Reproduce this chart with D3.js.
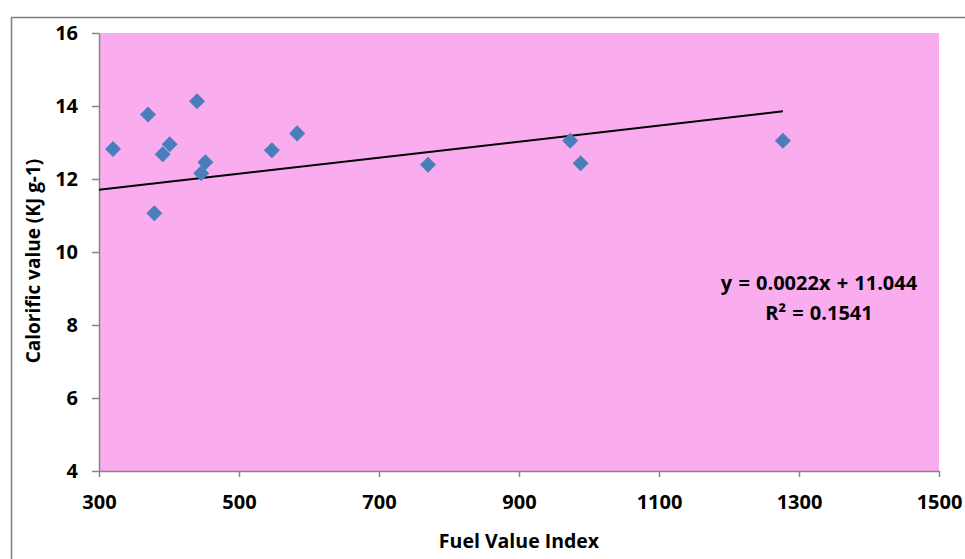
<!DOCTYPE html>
<html>
<head>
<meta charset="utf-8">
<script src="https://cdn.jsdelivr.net/npm/d3@7"></script>
<style>
  body { margin: 0; background: #fff; }
  svg { display: block; font-family: "Open Sans", Lato, sans-serif; }
</style>
</head>
<body>
<div id="chart"></div>
<script>
// Fuel value index vs calorific value
const fuelIndex = [320, 370, 379, 391, 401, 440, 446, 452, 547, 583, 770, 973, 988, 1277];
const calorific = [12.82, 13.77, 11.06, 12.68, 12.95, 14.13, 12.16, 12.46, 12.79, 13.25, 12.39, 13.05, 12.43, 13.05];
const xTicks = [300, 500, 700, 900, 1100, 1300, 1500];
const yTicks = [4, 6, 8, 10, 12, 14, 16];
const slope = 0.0022;
const intercept = 11.044;
const equationLines = ['y = 0.0022x + 11.044', 'R² = 0.1541'];

const width = 965;
const height = 559;
const margin = { top: 33, right: 26, bottom: 88, left: 99 };
const innerWidth = width - margin.left - margin.right;
const innerHeight = height - margin.top - margin.bottom;

const svg = d3.select('#chart')
  .append('svg')
  .attr('width', width)
  .attr('height', height);

// outer chart frame (runs past the right and bottom edges)
svg.append('path')
  .attr('d', `M11.5,${height}V17.5H${width}`)
  .attr('fill', 'none')
  .attr('stroke', '#7f7f7f')
  .attr('stroke-width', 1.5);

const g = svg.append('g')
  .attr('transform', `translate(${margin.left},${margin.top})`);

const x = d3.scaleLinear().domain([300, 1500]).range([0, innerWidth]);
const y = d3.scaleLinear().domain([4, 16]).range([innerHeight, 0]);

g.append('rect')
  .attr('width', innerWidth)
  .attr('height', innerHeight)
  .attr('fill', '#f9acee');

const xAxis = g.append('g')
  .attr('transform', `translate(0,${innerHeight})`)
  .call(d3.axisBottom(x).tickValues(xTicks).tickFormat(d3.format('d'))
    .tickSize(6).tickSizeOuter(0).tickPadding(18));

const yAxis = g.append('g')
  .call(d3.axisLeft(y).tickValues(yTicks).tickFormat(d3.format('d'))
    .tickSize(7).tickSizeOuter(0).tickPadding(14));

[xAxis, yAxis].forEach(ax => {
  ax.select('.domain').attr('stroke', '#868686').attr('stroke-width', 1.5);
  ax.selectAll('.tick line').attr('stroke', '#868686').attr('stroke-width', 1.5);
  ax.selectAll('.tick text')
    .attr('fill', '#000')
    .attr('font-size', '20px')
    .attr('font-weight', 'bold')
    .attr('font-family', '"Open Sans", sans-serif');
});

// trendline
g.append('line')
  .attr('x1', x(300))
  .attr('y1', y(slope * 300 + intercept))
  .attr('x2', x(d3.max(fuelIndex)))
  .attr('y2', y(slope * d3.max(fuelIndex) + intercept))
  .attr('stroke', '#000')
  .attr('stroke-width', 2);

const diamond = d3.symbol().type(d3.symbolSquare).size(128);

g.selectAll('.pt')
  .data(fuelIndex.map((v, i) => ({ fv: v, cv: calorific[i] })))
  .enter()
  .append('path')
  .attr('class', 'pt')
  .attr('d', diamond)
  .attr('transform', d => `translate(${x(d.fv)},${y(d.cv)}) rotate(45)`)
  .attr('fill', '#4a7ebb');

g.selectAll('.eq')
  .data(equationLines)
  .enter()
  .append('text')
  .attr('class', 'eq')
  .attr('x', 720)
  .attr('y', (d, i) => 257 + i * 30)
  .attr('text-anchor', 'middle')
  .attr('font-size', '20px')
  .attr('font-weight', 'bold')
  .attr('word-spacing', '1px')
  .text(d => d);

svg.append('text')
  .attr('x', margin.left + innerWidth / 2)
  .attr('y', 548)
  .attr('text-anchor', 'middle')
  .attr('font-size', '19.5px')
  .attr('font-weight', 'bold')
  .text('Fuel Value Index');

svg.append('text')
  .attr('transform', 'rotate(-90)')
  .attr('x', -261)
  .attr('y', 40)
  .attr('text-anchor', 'middle')
  .attr('font-size', '19px')
  .attr('font-weight', 'bold')
  .text('Calorific value (KJ g-1)');
</script>
</body>
</html>
